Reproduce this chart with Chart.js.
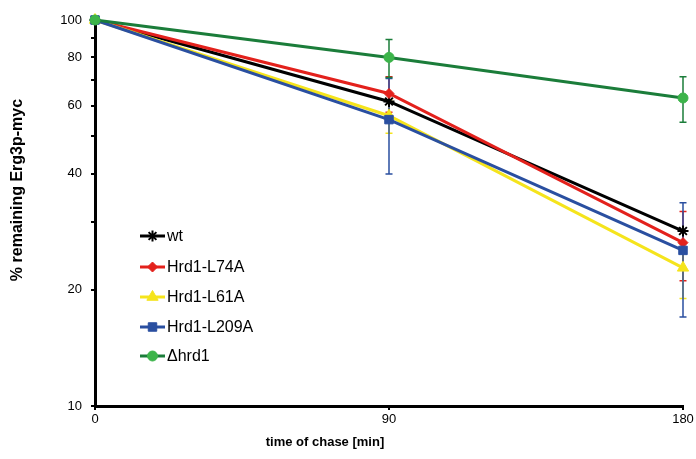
<!DOCTYPE html>
<html>
<head>
<meta charset="utf-8">
<script src="https://cdn.jsdelivr.net/npm/chart.js@4"></script>
<style>
  html, body { margin: 0; padding: 0; background: #fff; }
</style>
</head>
<body>
<canvas id="chaseChart" width="696" height="459"></canvas>
<script>
// data
const times = [0, 90, 180];
const seriesNames = ['wt', 'Hrd1-L74A', 'Hrd1-L61A', 'Hrd1-L209A', '\u0394hrd1'];
const wtValues = [100, 61.5, 28.4];
const wtErrors = [0, 0, 0];
const l74aValues = [100, 64.5, 26.5];
const l74aErrors = [0, 6.8, 5.4];
const l61aValues = [100, 56.5, 22.8];
const l61aErrors = [0, 5.6, 3.8];
const l209aValues = [100, 55.2, 25.3];
const l209aErrors = [0, 15.3, 8.3];
const dhrd1Values = [100, 80, 62.8];
const dhrd1Errors = [0, 9, 8.5];
const yTicks = [10, 20, 30, 40, 50, 60, 70, 80, 90, 100];
const yLabels = [10, 20, 40, 60, 80, 100];

const FONT = "'Liberation Sans', Arial, sans-serif";
Chart.defaults.font.family = FONT;
Chart.defaults.color = '#000';

function series(label, values, errors, line, fill, style, radius, order) {
    return {
        label: label,
        data: values.map((v, j) => ({ x: times[j], y: v })),
        errors: errors,
        borderColor: line,
        backgroundColor: fill,
        pointBackgroundColor: fill,
        pointBorderColor: fill,
        pointStyle: style,
        pointRadius: radius,
        pointBorderWidth: style === 'star' ? 2 : 1,
        borderWidth: 3,
        tension: 0,
        clip: false,
        order: order
    };
}

// error bars, drawn under the lines and markers
const errorBars = {
    id: 'errorBars',
    beforeDatasetsDraw(chart) {
        const ctx = chart.ctx;
        const xs = chart.scales.x, ys = chart.scales.y;
        chart.data.datasets.forEach(ds => {
            ctx.save();
            ctx.strokeStyle = ds.borderColor;
            ctx.lineWidth = 1.5;
            ds.data.forEach((p, j) => {
                const e = ds.errors[j];
                if (!e) return;
                const x = xs.getPixelForValue(p.x);
                const y1 = ys.getPixelForValue(p.y + e);
                const y2 = ys.getPixelForValue(p.y - e);
                ctx.beginPath();
                ctx.moveTo(x, y1); ctx.lineTo(x, y2);
                ctx.moveTo(x - 3.5, y1); ctx.lineTo(x + 3.5, y1);
                ctx.moveTo(x - 3.5, y2); ctx.lineTo(x + 3.5, y2);
                ctx.stroke();
            });
            ctx.restore();
        });
    }
};

// legend inside the plot + axis titles
const sideText = {
    id: 'sideText',
    afterDraw(chart) {
        const ctx = chart.ctx;
        const rows = [236, 267, 297, 327, 356];
        chart.data.datasets.forEach((ds, i) => {
            const y = rows[i];
            ctx.save();
            ctx.strokeStyle = ds.borderColor;
            ctx.lineWidth = 3;
            ctx.beginPath();
            ctx.moveTo(140, y); ctx.lineTo(165, y);
            ctx.stroke();
            ctx.fillStyle = ds.pointBackgroundColor;
            ctx.strokeStyle = ds.pointBorderColor;
            ctx.lineWidth = ds.pointBorderWidth;
            Chart.helpers.drawPoint(ctx, {
                pointStyle: ds.pointStyle, radius: ds.pointRadius,
                rotation: 0, borderWidth: ds.pointBorderWidth
            }, 152.5, y);
            ctx.fillStyle = '#000';
            ctx.font = '16px ' + FONT;
            ctx.textBaseline = 'middle';
            ctx.textAlign = 'left';
            ctx.fillText(ds.label, 167, y + 1);
            ctx.restore();
        });

        ctx.save();
        ctx.fillStyle = '#000';
        ctx.textAlign = 'center';
        ctx.textBaseline = 'middle';
        ctx.font = 'bold 13px ' + FONT;
        ctx.fillText('time of chase [min]', 325, 442);
        ctx.translate(18, 190);
        ctx.rotate(-Math.PI / 2);
        ctx.font = 'bold 16px ' + FONT;
        ctx.fillText('% remaining Erg3p-myc', 0, 0);
        ctx.restore();
    }
};

new Chart(document.getElementById('chaseChart').getContext('2d'), {
    type: 'line',
    data: {
        datasets: [
            series(seriesNames[0], wtValues, wtErrors, '#000000', '#000000', 'star', 5.5, 4),
            series(seriesNames[1], l74aValues, l74aErrors, '#e3211c', '#e3211c', 'rectRot', 5, 3),
            series(seriesNames[2], l61aValues, l61aErrors, '#f5e41c', '#f5e41c', 'triangle', 6.5, 2),
            series(seriesNames[3], l209aValues, l209aErrors, '#2a4fa0', '#2a4fa0', 'rect', 6, 1),
            series(seriesNames[4], dhrd1Values, dhrd1Errors, '#1b7d3a', '#3cb44a', 'circle', 5, 0)
        ]
    },
    options: {
        responsive: false,
        animation: false,
        layout: { padding: { top: 20, right: 13, left: 0, bottom: 0 } },
        plugins: { legend: { display: false }, tooltip: { enabled: false } },
        scales: {
            x: {
                type: 'linear', min: 0, max: 180,
                afterBuildTicks: s => { s.ticks = times.map(v => ({ value: v })); },
                afterFit: s => { s.height = 53; },
                border: { color: '#000', width: 3 },
                grid: { drawOnChartArea: false, tickLength: 4, color: '#000', lineWidth: 2 },
                ticks: { padding: 2, font: { size: 13 }, color: '#000' }
            },
            y: {
                type: 'logarithmic', min: 10, max: 100,
                afterBuildTicks: s => { s.ticks = yTicks.map(v => ({ value: v })); },
                afterFit: s => { s.width = 95; },
                border: { color: '#000', width: 3 },
                grid: { drawOnChartArea: false, tickLength: 4, color: '#000', lineWidth: 2 },
                ticks: {
                    autoSkip: false, padding: 9, font: { size: 13 }, color: '#000',
                    callback: v => yLabels.includes(v) ? String(v) : ''
                }
            }
        }
    },
    plugins: [errorBars, sideText]
});
</script>
</body>
</html>
